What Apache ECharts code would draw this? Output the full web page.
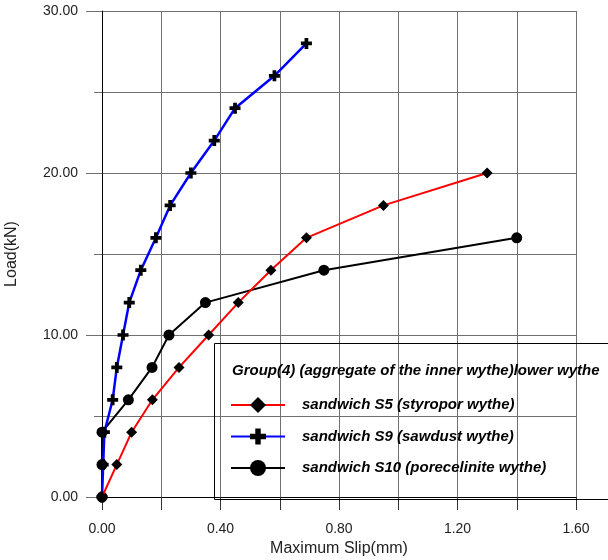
<!DOCTYPE html>
<html>
<head>
<meta charset="utf-8">
<script src="https://cdn.jsdelivr.net/npm/echarts@6/dist/echarts.min.js"></script>
<style>
  html, body { margin: 0; padding: 0; background: #fff; }
  #chart { width: 608px; height: 560px; }
</style>
</head>
<body>
<div id="chart"></div>
<script>
// Load–slip readings for the three sandwich specimens
const s5Slip  = [0, 0.05, 0.10, 0.17, 0.26, 0.36, 0.46, 0.57, 0.69, 0.95, 1.30];
const s5Load  = [0, 2, 4, 6, 8, 10, 12, 14, 16, 18, 20];
const s9Slip  = [0, 0.004, 0.008, 0.036, 0.05, 0.071, 0.092, 0.131, 0.182, 0.23, 0.30, 0.379, 0.449, 0.582, 0.69];
const s9Load  = [0, 2, 4, 6, 8, 10, 12, 14, 16, 18, 20, 22, 24, 26, 28];
const s10Slip = [0, 0, 0, 0.089, 0.169, 0.226, 0.349, 0.749, 1.40];
const s10Load = [0, 2, 4, 6, 8, 10, 12, 14, 16];

const seriesNames = [
  'sandwich S5 (styropor wythe)',
  'sandwich S9 (sawdust wythe)',
  'sandwich S10 (porecelinite wythe)'
];
const legendTitle = 'Group(4) (aggregate of the inner wythe)lower wythe';
const xTitle = 'Maximum Slip(mm)';
const yTitle = 'Load(kN)';

const pairs = (xs, ys) => xs.map((x, i) => [x, ys[i]]);
const FONT = '"Liberation Sans", Arial, sans-serif';
const GRID = '#707070';
const PLUS = 'path://M3.3,0H6.7V3.3H10V6.7H6.7V10H3.3V6.7H0V3.3H3.3Z';

const chart = echarts.init(document.getElementById('chart'), null, { renderer: 'canvas' });

chart.setOption({
  animation: false,
  backgroundColor: '#fff',
  grid: { left: 102, right: 32, top: 11, bottom: 63, outerBoundsMode: 'none', containLabel: false },
  xAxis: {
    type: 'value', min: 0, max: 1.6, interval: 0.2,
    name: xTitle, nameLocation: 'middle', nameGap: 43,
    nameTextStyle: { fontFamily: FONT, fontSize: 16, color: '#222' },
    axisLine: { show: true, onZero: false, lineStyle: { color: '#000', width: 1 } },
    axisTick: { show: true, length: 13, lineStyle: { color: '#333' } },
    axisLabel: {
      margin: 25, fontFamily: FONT, fontSize: 14, color: '#222',
      formatter: v => (Math.round(v / 0.2) % 2 === 0 ? v.toFixed(2) : '')
    },
    splitLine: { show: true, lineStyle: { color: GRID, width: 1 } }
  },
  yAxis: {
    type: 'value', min: 0, max: 30, interval: 10,
    name: yTitle, nameLocation: 'middle', nameGap: 82, nameRotate: 90,
    nameTextStyle: { fontFamily: FONT, fontSize: 16, color: '#222' },
    axisLine: { show: true, onZero: false, lineStyle: { color: '#000', width: 1 } },
    axisTick: { show: true, length: 16, lineStyle: { color: GRID } },
    minorTick: { show: true, splitNumber: 2, length: 8, lineStyle: { color: GRID } },
    axisLabel: {
      margin: 24, fontFamily: FONT, fontSize: 14, color: '#222',
      formatter: v => v.toFixed(2)
    },
    splitLine: { show: true, lineStyle: { color: GRID, width: 1 } },
    minorSplitLine: { show: true, lineStyle: { color: GRID, width: 1 } }
  },
  legend: {
    orient: 'vertical', left: 230, top: 397, padding: 0,
    itemWidth: 54, itemHeight: 20, itemGap: 15.5,
    selectedMode: false,
    data: seriesNames,
    textStyle: {
      fontFamily: FONT, fontSize: 15, fontWeight: 'bold', fontStyle: 'italic',
      color: '#000', padding: [0, 0, 0, 12]
    }
  },
  graphic: [
    {
      type: 'rect', left: 212, top: 341, silent: true, z: 50,
      shape: { width: 420, height: 156 },
      style: { fill: 'none', stroke: '#000', lineWidth: 1 }
    },
    {
      type: 'text', left: 232, top: 363, silent: true, z: 50,
      style: {
        text: legendTitle, fill: '#000',
        font: 'italic bold 15px ' + FONT
      }
    }
  ],
  series: [
    {
      name: seriesNames[0], type: 'line', z: 4,
      data: pairs(s5Slip, s5Load),
      symbol: 'diamond', symbolSize: 11, showAllSymbol: true,
      lineStyle: { color: '#ff0000', width: 2 },
      itemStyle: { color: '#000' }
    },
    {
      name: seriesNames[1], type: 'line', z: 3,
      data: pairs(s9Slip, s9Load),
      symbol: PLUS, symbolSize: 11, showAllSymbol: true,
      lineStyle: { color: '#0000ff', width: 2.5 },
      itemStyle: { color: '#000' }
    },
    {
      name: seriesNames[2], type: 'line', z: 2,
      data: pairs(s10Slip, s10Load),
      symbol: 'circle', symbolSize: 11, showAllSymbol: true,
      lineStyle: { color: '#000', width: 2 },
      itemStyle: { color: '#000' }
    }
  ]
});
</script>
</body>
</html>
